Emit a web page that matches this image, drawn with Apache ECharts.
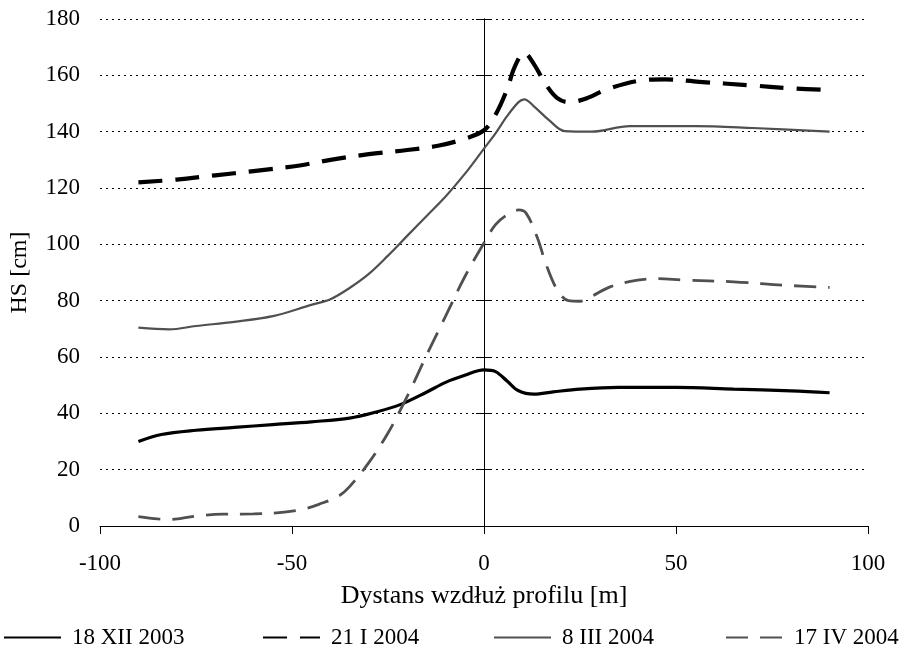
<!DOCTYPE html>
<html>
<head>
<meta charset="utf-8">
<script src="https://cdn.jsdelivr.net/npm/echarts@6/dist/echarts.min.js"></script>
<style>html,body{margin:0;padding:0;background:#fff}#c{width:901px;height:652px}</style>
</head>
<body>
<div id="c"></div>
<script>
// Series names (legend)
const seriesNames = ['18 XII 2003', '21 I 2004', '8 III 2004', '17 IV 2004'];

// Data: [distance m, HS cm]
const dec18 = [[-90,30],[-84,32.5],[-75,34],[-65,35],[-55,36],[-45,37],[-35,38.3],[-28,40.5],[-22,43],[-15,47.5],[-10,51],[-5,53.5],[0,55.4],[3,54.8],[6,51.5],[9,48],[13,46.8],[18,47.6],[25,48.6],[35,49.2],[50,49.2],[65,48.6],[80,48],[90,47.3]];
const jan21 = [[-90,122],[-80,123],[-70,124.5],[-60,126],[-48,128],[-40,130],[-30,132],[-20,133.5],[-12,135],[-5,137.5],[0,140.5],[3,146],[6,155],[8,163],[10.5,168],[13,164],[16,157],[19,152],[22,150.5],[26,151.5],[32,155],[40,158],[47,158.6],[56,157.7],[69,156.5],[80,155.4],[90,154.8]];
const mar8 = [[-90,70.4],[-82,69.8],[-75,71],[-65,72.5],[-55,74.5],[-45,78.5],[-40,80.5],[-35,84.5],[-30,89.5],[-25,96],[-20,103],[-15,110],[-10,117],[-5,125],[0,134],[3,139.4],[6,145.5],[9,150.5],[10.5,151.5],[13,149],[17,144],[21,140.2],[28,140],[38,142],[55,142],[70,141.3],[90,140]];
const apr17 = [[-90,3.3],[-85,2.5],[-82,2.3],[-75,3.5],[-68,4.2],[-60,4.3],[-52,4.9],[-47,6],[-43,7.7],[-38,10.5],[-35,14],[-30,22.5],[-25,33],[-20,46],[-15,60.5],[-10,74.5],[-5,88.5],[0,100.5],[3,107],[6,110.5],[9,112.2],[11,111],[14,102],[16,93.5],[19,84],[22,80],[25,79.8],[28,81.5],[33,85],[40,87.3],[45,87.8],[52,87.3],[65,86.7],[78,85.5],[90,84.7]];

const xTitle = 'Dystans wzdłuż profilu [m]';
const yTitle = 'HS [cm]';

const FONT = 'Liberation Serif';
const chart = echarts.init(document.getElementById('c'), null, {renderer: 'canvas'});

const yBase = {type: 'value', min: 0, max: 180, interval: 20, position: 'left'};
const legendLefts = [3, 262, 493, 725];

chart.setOption({
  animation: false,
  backgroundColor: '#fff',
  grid: {left: 100, right: 33, top: 19, bottom: 126},
  legend: seriesNames.map((n, i) => ({
    left: legendLefts[i], top: 626, padding: 0, itemWidth: 57, itemHeight: 14,
    itemStyle: {opacity: 0},
    textStyle: {fontFamily: FONT, fontSize: 23, color: '#000', padding: [0, 0, 0, 6]},
    data: [n]
  })),
  xAxis: {
    type: 'value', min: -100, max: 100, interval: 50,
    axisLine: {onZero: false, lineStyle: {color: '#000', width: 1}},
    axisTick: {length: 8, lineStyle: {color: '#000'}},
    axisLabel: {fontFamily: FONT, fontSize: 23, color: '#000', margin: 26},
    splitLine: {show: false},
    name: xTitle, nameLocation: 'middle', nameGap: 57,
    nameTextStyle: {fontFamily: FONT, fontSize: 26, color: '#000'}
  },
  yAxis: [
    Object.assign({}, yBase, {
      axisLine: {show: false, onZero: false},
      axisTick: {show: false},
      axisLabel: {fontFamily: FONT, fontSize: 23, color: '#000', margin: 20},
      splitLine: {show: true, lineStyle: {color: '#000', width: 1, type: [2, 4]}},
      name: yTitle, nameLocation: 'middle', nameGap: 68, nameRotate: 90,
      nameTextStyle: {fontFamily: FONT, fontSize: 24, color: '#000'}
    }),
    Object.assign({}, yBase, {
      axisLine: {show: true, onZero: true, onZeroAxisIndex: 0, lineStyle: {color: '#000', width: 1}},
      axisTick: {show: true, inside: true, length: 8, lineStyle: {color: '#000'}},
      axisLabel: {show: false},
      splitLine: {show: false}
    }),
    Object.assign({}, yBase, {
      axisLine: {show: true, onZero: true, onZeroAxisIndex: 0, lineStyle: {color: '#000', width: 1}},
      axisTick: {show: true, inside: false, length: 8, lineStyle: {color: '#000'}},
      axisLabel: {show: false},
      splitLine: {show: false}
    })
  ],
  series: [
    {name: seriesNames[0], type: 'line', data: dec18, smooth: 0.35, showSymbol: false, symbol: 'none',
     color: '#000', lineStyle: {color: '#000', width: 3.2, type: 'solid'}},
    {name: seriesNames[1], type: 'line', data: jan21, smooth: 0.35, showSymbol: false, symbol: 'none',
     color: '#000', lineStyle: {color: '#000', width: 4.2, type: [24, 13], cap: 'butt'}},
    {name: seriesNames[2], type: 'line', data: mar8, smooth: 0.35, showSymbol: false, symbol: 'none',
     color: '#505050', lineStyle: {color: '#505050', width: 2.2, type: 'solid'}},
    {name: seriesNames[3], type: 'line', data: apr17, smooth: 0.35, showSymbol: false, symbol: 'none',
     color: '#505050', lineStyle: {color: '#505050', width: 2.8, type: [22, 12], cap: 'butt'}}
  ]
});
</script>
</body>
</html>
